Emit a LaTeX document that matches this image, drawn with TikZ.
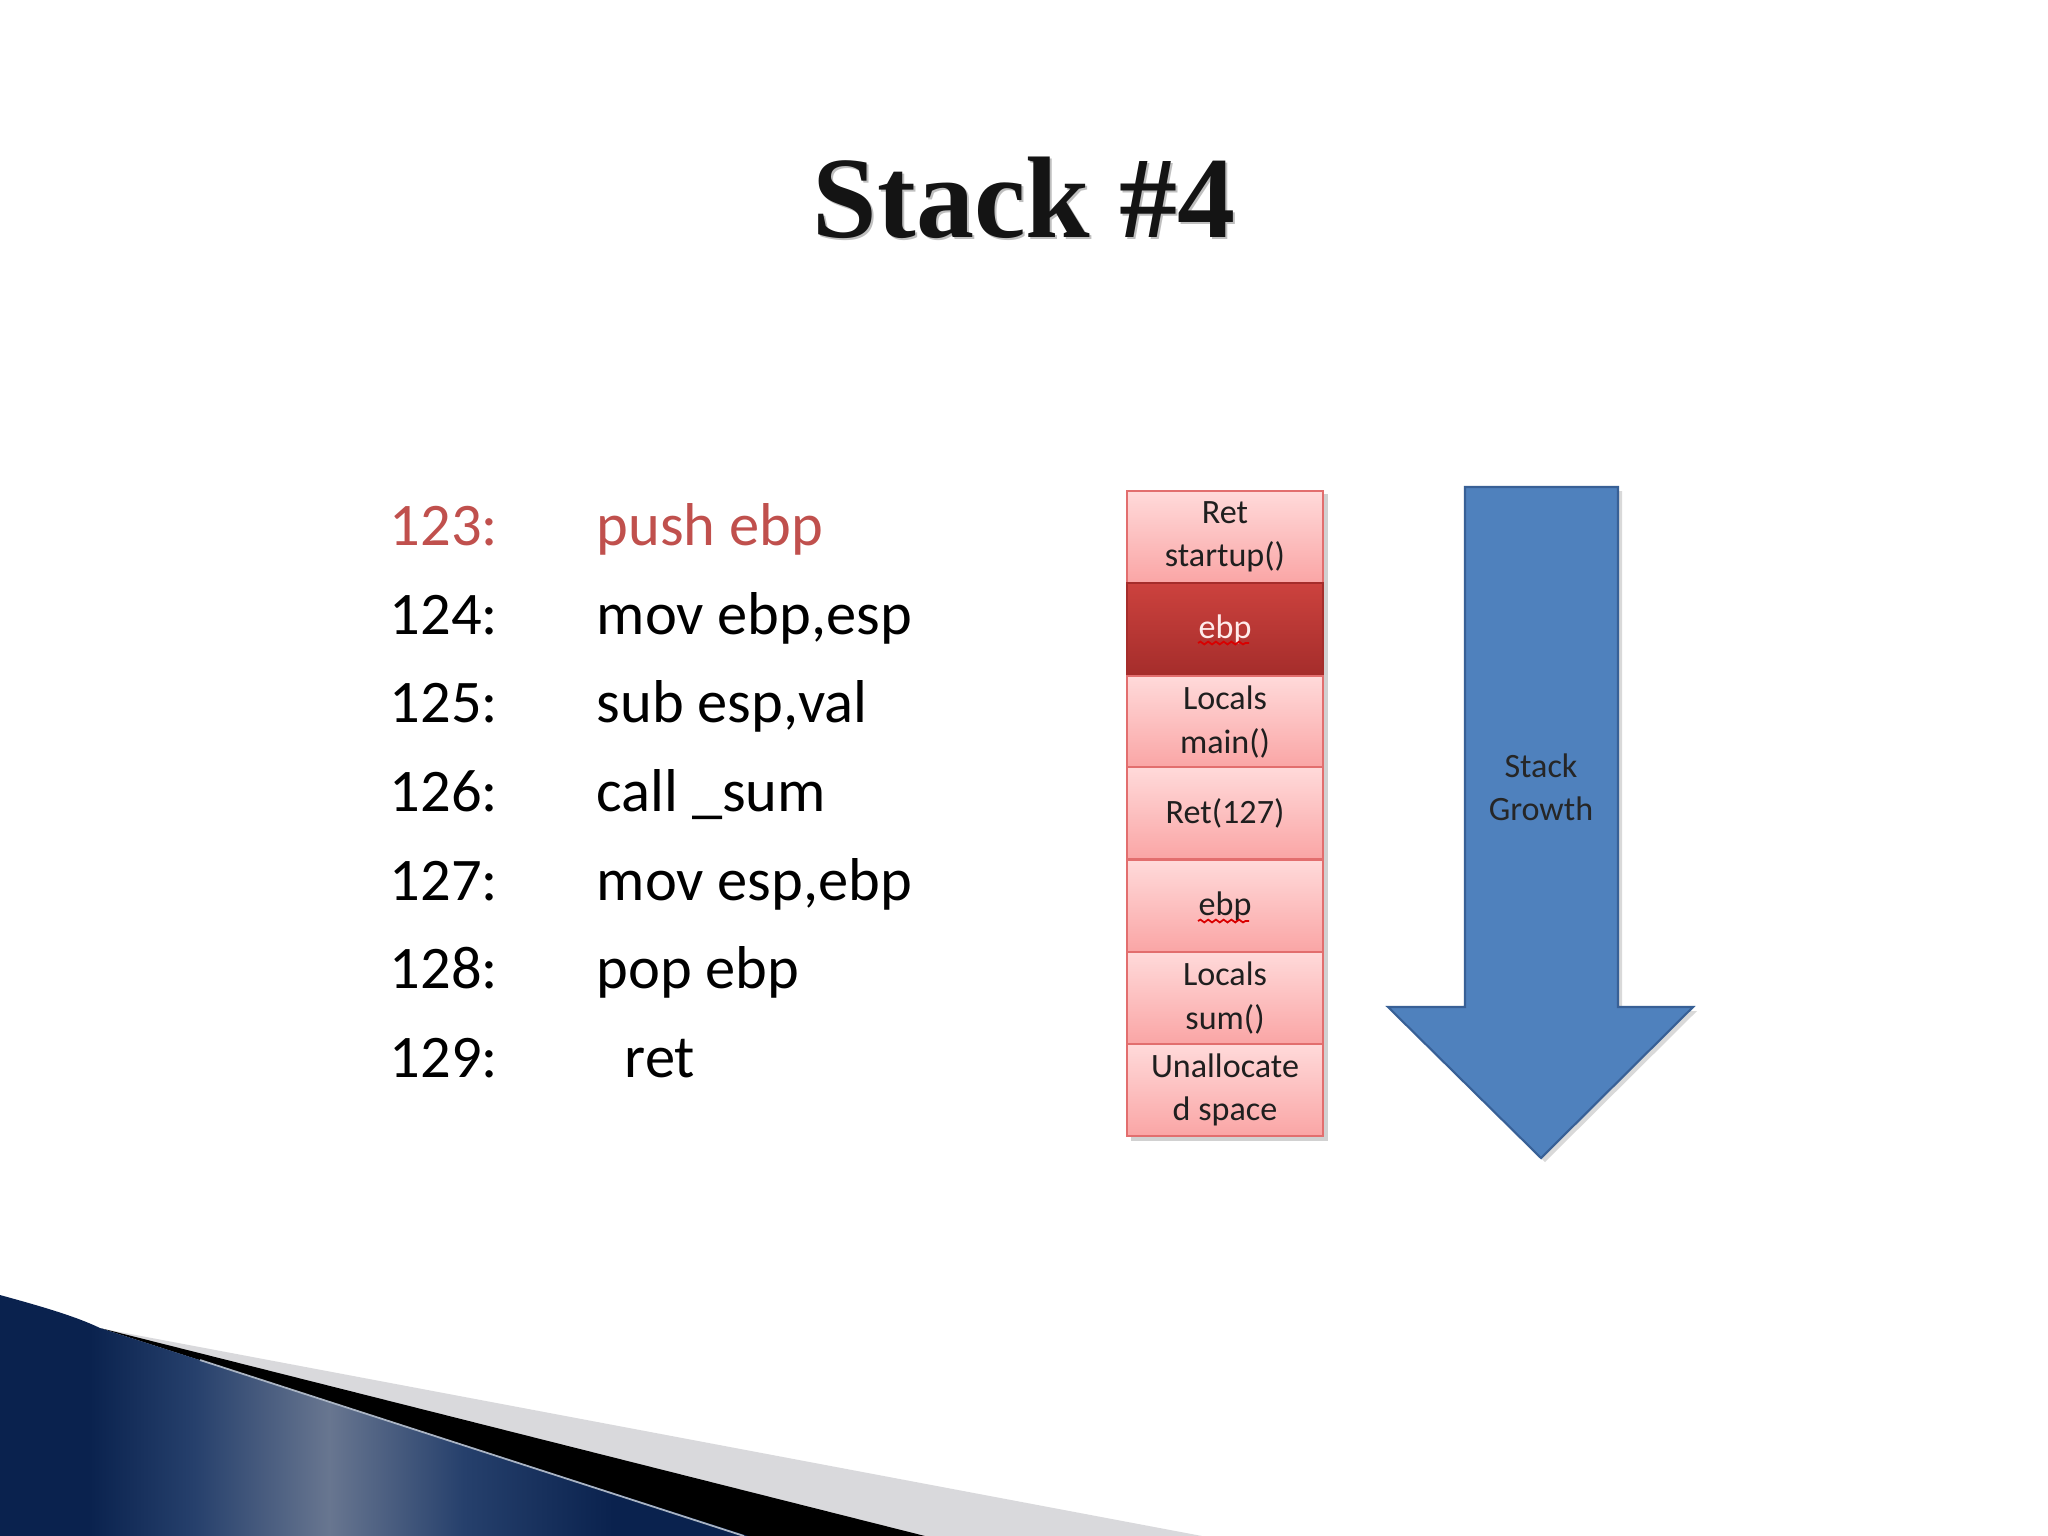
\documentclass[tikz,border=0pt]{standalone}
\usepackage{fontspec}
\setmainfont{Carlito}
\newfontfamily\titlefont{Liberation Serif}
\usetikzlibrary{decorations.pathmorphing}
\definecolor{codered}{RGB}{192,80,77}
\definecolor{celltop}{RGB}{255,218,218}
\definecolor{cellbot}{RGB}{250,165,165}
\definecolor{cellborder}{RGB}{226,110,110}
\definecolor{darktop}{RGB}{204,66,62}
\definecolor{darkbot}{RGB}{165,45,43}
\definecolor{arrowfill}{RGB}{79,129,189}
\definecolor{arrowline}{RGB}{56,96,150}
\definecolor{navyA}{RGB}{10,34,78}
\definecolor{navyB}{RGB}{38,64,108}
\definecolor{steelL}{RGB}{104,118,144}
\definecolor{bandgray}{RGB}{217,217,220}
\definecolor{hilite}{RGB}{170,180,195}
\pgfdeclarehorizontalshading{steel}{100bp}{color(0bp)=(navyA); color(31bp)=(navyA); color(38bp)=(navyB); color(47bp)=(steelL); color(56bp)=(navyB); color(66bp)=(navyA); color(100bp)=(navyA)}
\tikzset{
  codefont/.style={font=\fontsize{17.2}{20}\selectfont},
  numtext/.style={codefont, anchor=base west, inner sep=0},
  cmdtext/.style={codefont, anchor=base west, inner sep=0},
  cell/.style={draw=cellborder, line width=0.6pt, top color=celltop, bottom color=cellbot,
    minimum width=1.96cm, minimum height=0.923cm, inner sep=0, align=center,
    font=\fontsize{9.7}{12.3}\selectfont, text=black!88},
  darkcell/.style={cell, draw=darkbot, top color=darktop, bottom color=darkbot, text=white!92!red},
  squiggle/.style={draw=red!85!black, line width=0.5pt, decorate,
    decoration={snake, amplitude=0.4pt, segment length=2.2pt}},
  growtext/.style={font=\fontsize{9.7}{12.3}\selectfont, align=center, text=black!85},
  titlestyle/.style={anchor=base, font=\titlefont\bfseries\fontsize{33}{38}\selectfont}
}
\begin{document}
\begin{tikzpicture}[x=0.01cm,y=-0.01cm]
\useasboundingbox (0,0) rectangle (2048,1536);
\fill[white] (0,0) rectangle (2048,1536);

% bottom-left decoration
\fill[bandgray] (104,1329) -- (1202,1536) -- (746,1536) -- cycle;
\fill[black] (100,1328) -- (925,1536) -- (746,1536) -- cycle;
\shade[shading=steel] (0,1295) .. controls (40,1306) and (75,1316) .. (100,1328) -- (748,1536) -- (0,1536) -- cycle;
\draw[hilite, line width=0.5pt] (200,1360) -- (744,1536);

% title
\node[titlestyle, text=black!25] at (1026,239) {Stack \#4};
\node[titlestyle, text=black!92] (title) at (1024,237) {Stack \#4};

% code
\node[numtext, text=codered] (n1) at (389,545) {123:};
\node[cmdtext, text=codered] (m1) at (596,545) {push ebp};
\node[numtext] (n2) at (389,634) {124:};
\node[cmdtext] (m2) at (596,634) {mov ebp,esp};
\node[numtext] (n3) at (389,722) {125:};
\node[cmdtext] (m3) at (596,722) {sub esp,val};
\node[numtext] (n4) at (389,811) {126:};
\node[cmdtext] (m4) at (596,811) {call \_sum};
\node[numtext] (n5) at (389,900) {127:};
\node[cmdtext] (m5) at (596,900) {mov esp,ebp};
\node[numtext] (n6) at (389,988) {128:};
\node[cmdtext] (m6) at (596,988) {pop ebp};
\node[numtext] (n7) at (389,1077) {129:};
\node[cmdtext] (m7) at (624,1077) {ret};

% stack column
\fill[black!18] (1131,494) rectangle (1328,1141);
\node[cell] (c1) at (1225,537) {Ret\\startup()};
\node[darkcell] (c2) at (1225,629) {ebp};
\node[cell] (c3) at (1225,722) {Locals\\main()};
\node[cell] (c4) at (1225,813) {Ret(127)};
\node[cell] (c5) at (1225,906) {ebp};
\node[cell] (c6) at (1225,998) {Locals\\sum()};
\node[cell] (c7) at (1225,1090) {Unallocate\\d space};
\draw[squiggle] (1198,643) -- (1249,643);
\draw[squiggle] (1198,921) -- (1249,921);

% growth arrow
\fill[black!15] (1469,491) -- (1622,491) -- (1622,1011) -- (1697,1011) -- (1545,1162) -- (1392,1011) -- (1469,1011) -- cycle;
\filldraw[fill=arrowfill, draw=arrowline, line width=0.6pt, line join=miter]
  (1465,487) -- (1618,487) -- (1618,1007) -- (1693,1007) -- (1541,1158) -- (1388,1007) -- (1465,1007) -- cycle;
\node[growtext] (grow) at (1541,787) {Stack\\Growth};
\end{tikzpicture}
\end{document}
